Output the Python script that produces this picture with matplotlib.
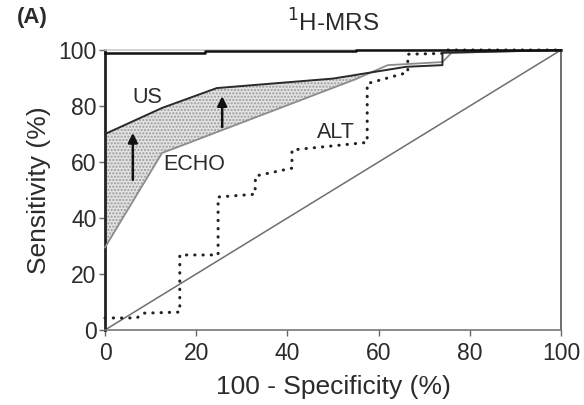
import numpy as np
import matplotlib
matplotlib.use('Agg')
import matplotlib.pyplot as plt

plt.rcParams['font.family'] = ['Liberation Sans', 'DejaVu Sans']
plt.rcParams['hatch.linewidth'] = 1.0
plt.rcParams['text.color'] = '#2b2b2b'
plt.rcParams['axes.labelcolor'] = '#2b2b2b'
plt.rcParams['xtick.labelcolor'] = '#2b2b2b'
plt.rcParams['ytick.labelcolor'] = '#2b2b2b'

# ROC curves (x = 100 - specificity, y = sensitivity)
mrs_x = [0, 22, 22, 55, 55, 100]
mrs_y = [98.8, 98.8, 99.5, 99.5, 100, 100]

us_x = [0, 12.5, 24.5, 50, 66, 74, 74, 100]
us_y = [70, 79.3, 86.4, 89.8, 94, 94.6, 99, 100]

echo_x = [0, 12.5, 55, 62, 74, 76, 100]
echo_y = [29.5, 63.2, 89.6, 94.6, 95.7, 99, 100]

alt_x = [0, 7, 8.3, 16.4, 16.4, 24.8, 24.8, 32.9, 33, 41, 41, 57.5, 57.5, 66.4, 66.4, 74.6, 75, 100]
alt_y = [4.3, 4.3, 6, 6.4, 26.8, 26.8, 47.5, 48.5, 55, 57.8, 64.3, 67, 88, 92, 98.5, 98.8, 100, 100]

ticks = [0, 20, 40, 60, 80, 100]

fig = plt.figure(figsize=(5.84, 4.05), dpi=100)
ax = fig.add_axes([0.1798, 0.1852, 0.7808, 0.6913])

# shaded gain between ECHO and US
xx = np.linspace(0, 74, 300)
us_i = np.interp(xx, us_x[:6], us_y[:6])
echo_i = np.interp(xx, echo_x, echo_y)
ax.fill_between(xx, echo_i, us_i, where=us_i >= echo_i, interpolate=True,
                facecolor='#e2e2e2', edgecolor='#9a9a9a', hatch='.....', linewidth=0, zorder=1)

ax.plot([0, 100], [0, 100], color='#6e6e6e', lw=1.1, zorder=2)
ax.plot(alt_x, alt_y, color='#222222', lw=2.2, linestyle=(0, (0.1, 2.6)),
        dash_capstyle='round', zorder=3, clip_on=False)
ax.plot(echo_x, echo_y, color='#8c8c8c', lw=1.3, zorder=4, clip_on=False)
ax.plot(us_x, us_y, color='#2a2a2a', lw=1.4, zorder=5, clip_on=False)
ax.plot(mrs_x, mrs_y, color='#111111', lw=1.8, zorder=6, clip_on=False)

# arrows
ax.annotate('', xy=(6.1, 70.4), xytext=(6.1, 53.6),
            arrowprops=dict(arrowstyle='-|>', color='#111111', lw=1.8, mutation_scale=14,
                            shrinkA=0, shrinkB=0), zorder=7)
ax.annotate('', xy=(25.7, 83.5), xytext=(25.7, 72.5),
            arrowprops=dict(arrowstyle='-|>', color='#111111', lw=1.8, mutation_scale=14,
                            shrinkA=0, shrinkB=0), zorder=7)

ax.text(9.2, 83, 'US', fontsize=15.5, ha='center', va='center')
ax.text(19.5, 59, 'ECHO', fontsize=15.5, ha='center', va='center')
ax.text(50.6, 70.7, 'ALT', fontsize=15.5, ha='center', va='center')

ax.set_xlim(0, 100)
ax.set_ylim(0, 100)
ax.set_xticks(ticks)
ax.set_yticks(ticks)
ax.tick_params(direction='out', length=4, width=1, color='#666666', labelsize=16.5)
ax.tick_params(axis='x', pad=5)
ax.tick_params(axis='y', pad=2)

ax.spines['left'].set_color('#222222')
ax.spines['left'].set_linewidth(2)
ax.spines['bottom'].set_color('#777777')
ax.spines['bottom'].set_linewidth(1.2)
ax.spines['right'].set_color('#555555')
ax.spines['right'].set_linewidth(1.2)
ax.spines['top'].set_color('#cccccc')
ax.spines['top'].set_linewidth(1.2)

ax.set_xlabel('100 - Specificity (%)', fontsize=19, labelpad=7)
ax.set_ylabel('Sensitivity (%)', fontsize=19, labelpad=5)
ax.set_title('$^{1}$H-MRS', fontsize=17.5, pad=13)

fig.text(0.029, 0.957, '(A)', fontsize=16, fontweight='bold', ha='left', va='center')

fig.savefig('out.png', dpi=100)
